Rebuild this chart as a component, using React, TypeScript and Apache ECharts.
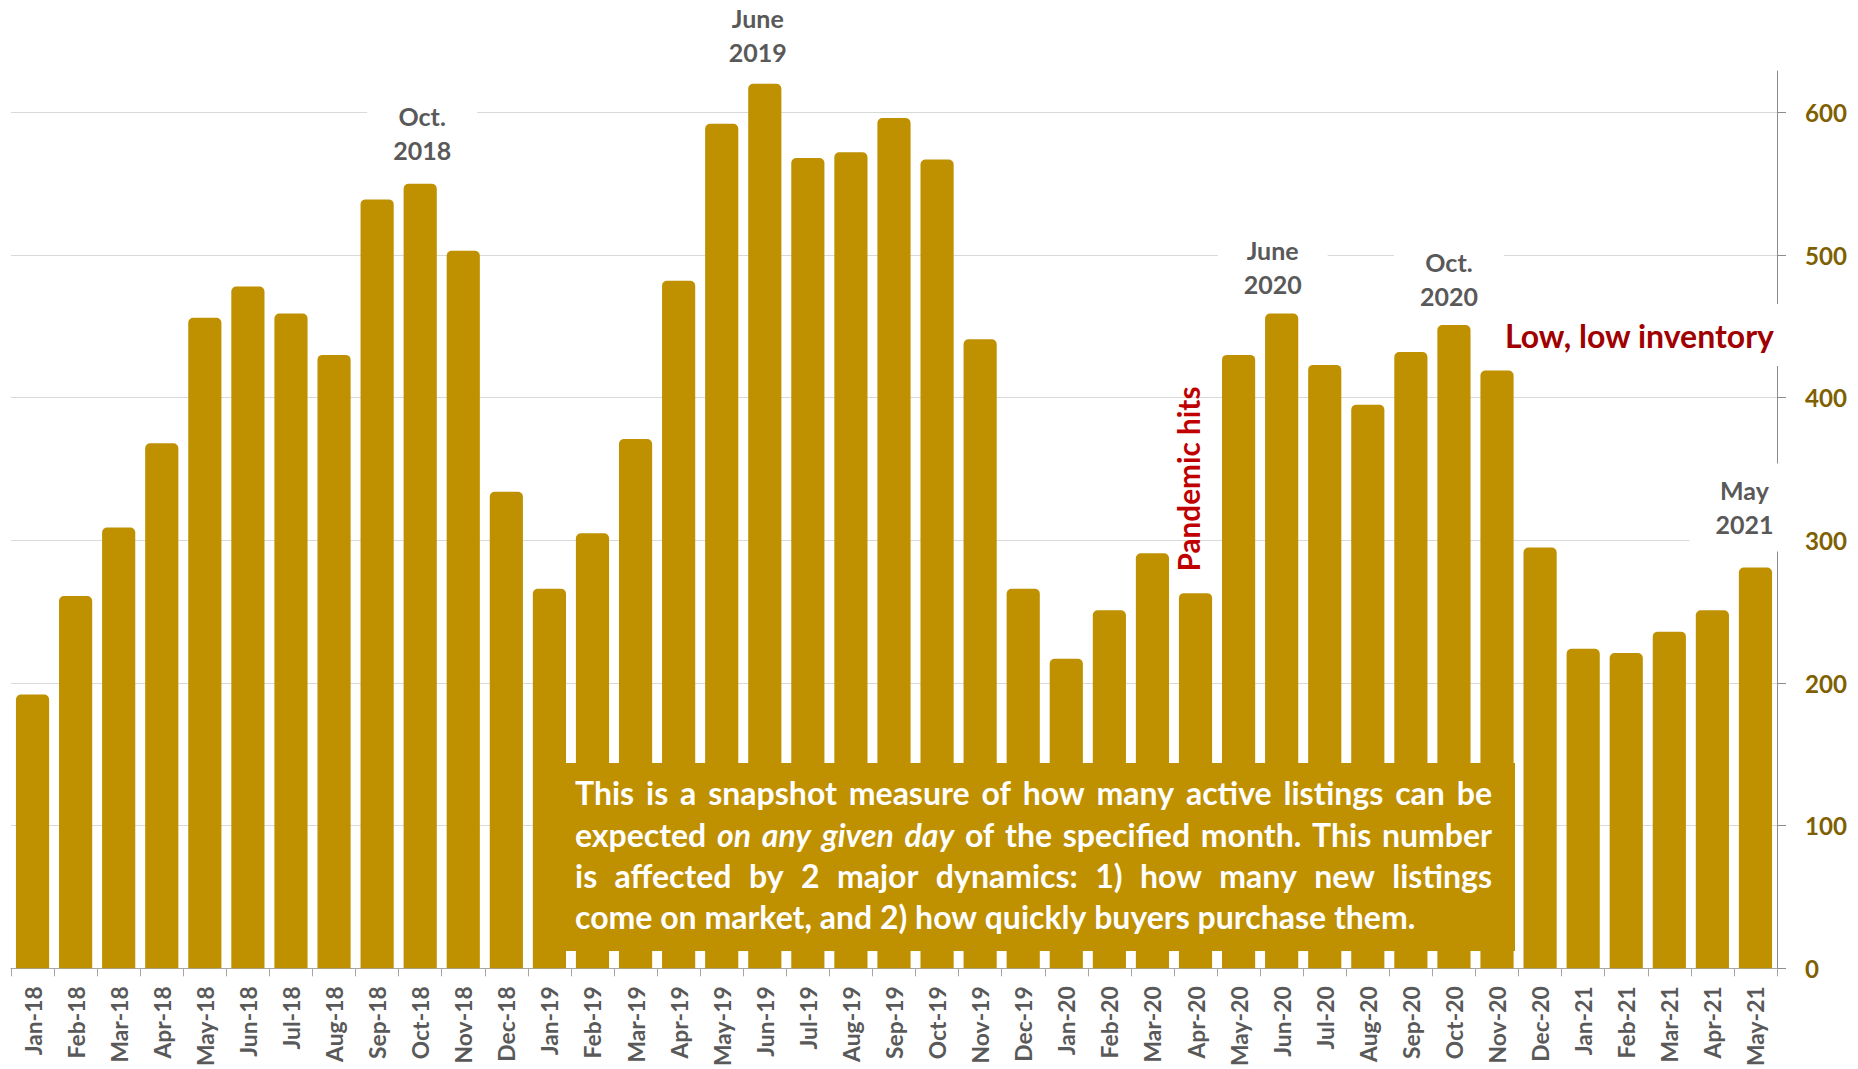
import React, { useEffect, useRef } from "react";
import * as echarts from "echarts";

// ---------- data ----------
const months = [
  "Jan-18", "Feb-18", "Mar-18", "Apr-18", "May-18", "Jun-18", "Jul-18", "Aug-18", "Sep-18", "Oct-18", "Nov-18", "Dec-18",
  "Jan-19", "Feb-19", "Mar-19", "Apr-19", "May-19", "Jun-19", "Jul-19", "Aug-19", "Sep-19", "Oct-19", "Nov-19", "Dec-19",
  "Jan-20", "Feb-20", "Mar-20", "Apr-20", "May-20", "Jun-20", "Jul-20", "Aug-20", "Sep-20", "Oct-20", "Nov-20", "Dec-20",
  "Jan-21", "Feb-21", "Mar-21", "Apr-21", "May-21",
];

const activeListings = [
  192, 261, 309, 368, 456, 478, 459, 430, 539, 550, 503, 334,
  266, 305, 371, 482, 592, 620, 568, 572, 596, 567, 441, 266,
  217, 251, 291, 263, 430, 459, 423, 395, 432, 451, 419, 295,
  224, 221, 236, 251, 281,
];

const yTickValues = [0, 100, 200, 300, 400, 500, 600];

const calloutMonths = ["Oct-18", "Jun-19", "Jun-20", "Oct-20", "May-21"];
const calloutTexts = ["Oct.\n2018", "June\n2019", "June\n2020", "Oct.\n2020", "May\n2021"];

const pandemicText = "Pandemic hits";
const inventoryText = "Low, low inventory";

const noteLines = [
  [{ t: "This is a snapshot measure of how many active listings can be", i: false }],
  [
    { t: "expected", i: false },
    { t: "on any given day", i: true },
    { t: "of the specified month. This number", i: false },
  ],
  [{ t: "is affected by 2 major dynamics: 1) how many new listings", i: false }],
  [{ t: "come on market, and 2) how quickly buyers purchase them.", i: false }],
];

// ---------- layout / style (not data) ----------
const GOLD = "#BF9000";
const GRAY_TEXT = "#595959";
const AXIS_TEXT = "#7F6000";
const SANS = "Lato";

const calloutLayout: Record<string, { gap: number; dx: number }> = {
  "Oct-18": { gap: 17, dx: 2 },
  "Jun-19": { gap: 15, dx: -7 },
  "Jun-20": { gap: 13, dx: -9 },
  "Oct-20": { gap: 12, dx: -5 },
  "May-21": { gap: 26, dx: -11 },
};

export default function App() {
  const ref = useRef<HTMLDivElement>(null);

  useEffect(() => {
    if (!ref.current) return;
    const chart = echarts.init(ref.current, undefined, { renderer: "svg" });

    const ctx = document.createElement("canvas").getContext("2d")!;
    const measure = (text: string, size: number, italic = false, family = SANS) => {
      ctx.font = `${italic ? "italic " : ""}bold ${size}px ${family}`;
      return ctx.measureText(text).width;
    };
    const fit = (text: string, target: number, lo: number, hi: number) => {
      const w = measure(text, 100);
      const s = w > 0 ? (100 * target) / w : (lo + hi) / 2;
      return Math.min(hi, Math.max(lo, s));
    };

    const calloutSize = fit("2019", 58, 20, 30);
    const pandemicSize = fit(pandemicText, 185, 20, 32);
    const inventorySize = fit(inventoryText, 270, 20, 32);
    const xLabelSize = fit("Jan-18", 69, 16, 24);
    const yLabelSize = fit("500", 42, 18, 28);

    // paragraph layout (justified)
    const noteLeft = 575;
    const noteRight = 1492;
    const noteWidth = noteRight - noteLeft;
    const lineWords = noteLines.map((segs) => {
      const words: { t: string; i: boolean }[] = [];
      segs.forEach((s) => s.t.split(" ").forEach((w) => words.push({ t: w, i: s.i })));
      return words;
    });
    const naturalWidth = (words: { t: string; i: boolean }[], size: number) => {
      let w = 0;
      words.forEach((wd, k) => {
        w += measure(wd.t, size, wd.i);
        if (k < words.length - 1) w += measure(" ", size, false);
      });
      return w;
    };
    const maxNat = Math.max(...lineWords.slice(0, 3).map((w) => naturalWidth(w, 100)));
    const noteSize = Math.min(32, Math.max(22, (100 * noteWidth * 0.985) / maxNat));
    const lineCenters = [792, 834, 875, 916.5];
    const noteElements: any[] = [];
    lineWords.forEach((words, li) => {
      const justify = li < lineWords.length - 1;
      const wordsW = words.reduce((a, wd) => a + measure(wd.t, noteSize, wd.i), 0);
      const gap = justify
        ? (noteWidth - wordsW) / (words.length - 1)
        : measure(" ", noteSize, false);
      let x = noteLeft;
      words.forEach((wd) => {
        noteElements.push({
          type: "text",
          z: 101,
          x,
          y: lineCenters[li],
          style: {
            text: wd.t,
            fill: "#FFFFFF",
            font: `${wd.i ? "italic " : ""}bold ${noteSize}px ${SANS}`,
            align: "left",
            verticalAlign: "middle",
          },
        });
        x += measure(wd.t, noteSize, wd.i) + gap;
      });
    });

    const padV = 10;
    const seriesData = activeListings.map((v, idx) => {
      const m = months[idx];
      const ci = calloutMonths.indexOf(m);
      if (ci < 0) return v;
      const lay = calloutLayout[m];
      return {
        value: v,
        label: {
          show: true,
          position: "top",
          distance: lay.gap - padV,
          offset: [lay.dx, 0],
          formatter: calloutTexts[ci],
          color: GRAY_TEXT,
          fontFamily: SANS,
          fontWeight: "bold",
          fontSize: calloutSize,
          lineHeight: 34,
          align: "center",
          backgroundColor: "#FFFFFF",
          padding: [padV, 26],
        },
      };
    });

    const option: any = {
      animation: false,
      backgroundColor: "#FFFFFF",
      grid: { left: 11, right: 81, top: 71, bottom: 100, containLabel: false },
      xAxis: {
        type: "category",
        data: months,
        boundaryGap: true,
        axisLine: { show: true, lineStyle: { color: "#A6A6A6", width: 1 } },
        axisTick: { show: true, alignWithLabel: false, interval: 0, length: 8, lineStyle: { color: "#A6A6A6" } },
        axisLabel: {
          interval: 0,
          rotate: 90,
          margin: 18,
          color: GRAY_TEXT,
          fontFamily: SANS,
          fontWeight: "bold",
          fontSize: xLabelSize,
        },
        splitLine: { show: false },
      },
      yAxis: {
        type: "value",
        position: "right",
        min: 0,
        max: 629,
        interval: 100,
        axisLine: { show: true, lineStyle: { color: "#8C8C8C", width: 1 } },
        axisTick: { show: true, inside: false, length: 9, customValues: yTickValues, lineStyle: { color: "#8C8C8C" } },
        axisLabel: {
          customValues: yTickValues,
          margin: 28,
          color: AXIS_TEXT,
          fontFamily: SANS,
          fontWeight: "bold",
          fontSize: yLabelSize,
        },
        splitLine: { show: true, lineStyle: { color: "#D9D9D9", width: 1 } },
      },
      series: [
        {
          type: "bar",
          data: seriesData,
          barCategoryGap: "23%",
          itemStyle: { color: GOLD, borderRadius: [5, 5, 0, 0] },
          label: { show: false },
        },
      ],
      graphic: {
        elements: [
          {
            type: "rect",
            z: 100,
            shape: { x: 533, y: 763, width: 982, height: 188 },
            style: { fill: GOLD },
          },
          ...noteElements,
          {
            type: "text",
            z: 101,
            x: 1188,
            y: 479,
            rotation: Math.PI / 2,
            style: {
              text: pandemicText,
              fill: "#C00000",
              font: `bold ${pandemicSize}px ${SANS}`,
              align: "center",
              verticalAlign: "middle",
            },
          },
          {
            type: "text",
            z: 101,
            x: 1784,
            y: 335,
            style: {
              text: inventoryText,
              fill: "#A00000",
              font: `bold ${inventorySize}px ${SANS}`,
              align: "right",
              verticalAlign: "middle",
              backgroundColor: "#FFFFFF",
              padding: [15, 10, 15, 10],
            },
          },
        ],
      },
    };

    chart.setOption(option);
    return () => chart.dispose();
  }, []);

  return (
    <div
      ref={ref}
      style={{ position: "absolute", left: 0, top: 0, width: "1858px", height: "1069px", background: "#FFFFFF" }}
    />
  );
}
